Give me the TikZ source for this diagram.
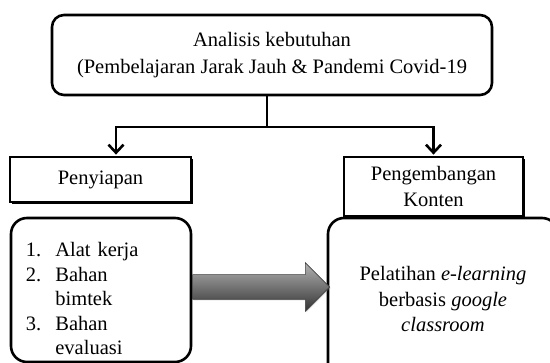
\documentclass[tikz,border=0pt]{standalone}
\usepackage{fontspec}
\setmainfont{Liberation Serif}
\usetikzlibrary{arrows.meta,shapes.arrows,shadows}

\tikzset{
  kotak/.style={draw,line width=1.8pt,fill=white,align=center,
    drop shadow={shadow xshift=1.6pt,shadow yshift=-1.6pt,fill=black,opacity=1}},
  bulat/.style={draw,line width=2.6pt,rounded corners=16pt,fill=white},
  panah/.style={line width=2.6pt,-{Straight Barb[length=8pt,width=15pt]}},
  blok/.style={single arrow,draw=black!75,line width=0.6pt,
    top color=black!30,bottom color=black!80,inner sep=12pt,
    minimum height=137pt,single arrow head extend=12pt,
    drop shadow={shadow xshift=1pt,shadow yshift=-1pt,opacity=0.3}}
}

\begin{document}
\begin{tikzpicture}[x=1pt,y=-1pt,font=\fontsize{20.5}{25.5}\selectfont]
  \useasboundingbox (0,0) rectangle (550,363);
  \clip (0,0) rectangle (550,363);

  \node[bulat,rounded corners=12pt,align=center,minimum width=440pt,minimum height=80pt,
    font=\fontsize{20.5}{27}\selectfont]
    (analisis) at (272,55) {Analisis kebutuhan\\(Pembelajaran Jarak Jauh \& Pandemi Covid-19};

  \node[kotak,minimum width=181pt,minimum height=45pt] (penyiapan) at (100.5,179.5) {Penyiapan};
  \node[kotak,minimum width=179pt,minimum height=59pt] (pengembangan) at (433.5,186.5) {Pengembangan\\Konten};

  \node[bulat,minimum width=180pt,minimum height=144pt,text width=150pt,align=left,
    font=\fontsize{20.5}{24.5}\selectfont]
    (persiapan) at (101,290) {\raisebox{-16pt}[0pt][0pt]{\begin{tabular}{@{}l@{\hspace{14pt}}l@{}}
      1. & Alat kerja\\ 2. & Bahan\\ & bimtek\\ 3. & Bahan\\ & evaluasi
    \end{tabular}}};
  \node[bulat,minimum width=230pt,minimum height=162pt,align=center]
    (pelatihan) at (443,299) {Pelatihan \textit{e-learning}\\berbasis \textit{google}\\\textit{classroom}};

  % cabang dari analisis ke dua kotak
  \coordinate (cabang) at (267,127);
  \draw[line width=2.6pt] (analisis.south -| cabang) -- (cabang);
  \draw[panah,shorten >=1.5pt] (cabang) -| ([xshift=15.5pt]penyiapan.north);
  \draw[panah,shorten >=1.5pt] (cabang) -| (pengembangan.north);

  \node[blok,anchor=tail] (alir) at (persiapan.east |- 0,287) {};
\end{tikzpicture}
\end{document}
